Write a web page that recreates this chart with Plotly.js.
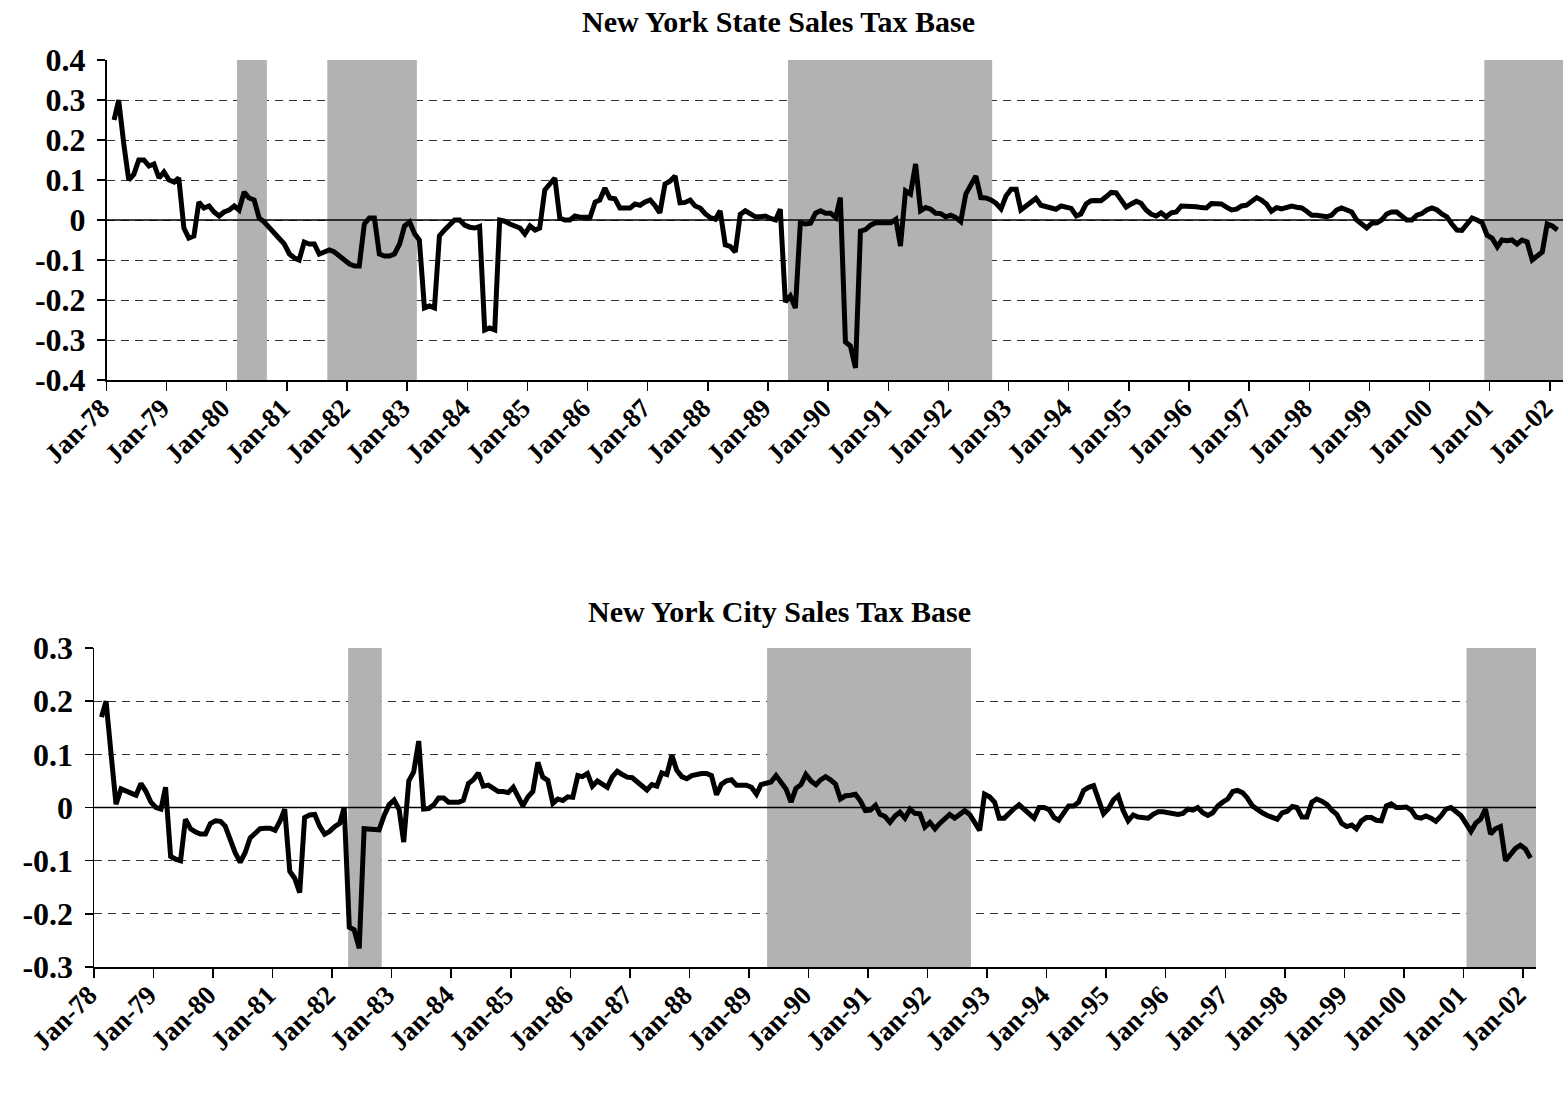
<!DOCTYPE html>
<html>
<head>
<meta charset="utf-8">
<script src="https://cdn.plot.ly/plotly-3.0.1.min.js"></script>
<style>
html,body{margin:0;padding:0;background:#fff;}
#chart{width:1567px;height:1095px;}
</style>
</head>
<body>
<div id="chart"></div>
<script>
// Monthly series, Feb-1978 through Feb-2002
const startMonth = "1978-02";
const stateGrowth = [
  0.25, 0.30, 0.19, 0.10, 0.114, 0.15, 0.15, 0.135, 0.14, 0.105, 0.12,
  0.10, 0.095, 0.105, -0.02, -0.045, -0.04, 0.045, 0.03, 0.035, 0.02, 0.01, 0.02,
  0.025, 0.035, 0.025, 0.07, 0.055, 0.05, 0.005, -0.005, -0.02, -0.03, -0.045, -0.06,
  -0.085, -0.095, -0.10, -0.055, -0.06, -0.06, -0.085, -0.08, -0.075, -0.08, -0.09, -0.10,
  -0.11, -0.115, -0.115, -0.01, 0.005, 0.005, -0.085, -0.09, -0.09, -0.085, -0.06, -0.015,
  -0.005, -0.035, -0.05, -0.22, -0.215, -0.22, -0.04, -0.025, -0.013, 0.0, 0.0, -0.013,
  -0.018, -0.02, -0.016, -0.275, -0.27, -0.275, 0.0, -0.003, -0.01, -0.015, -0.02, -0.035,
  -0.015, -0.025, -0.02, 0.075, 0.09, 0.105, 0.005, 0.0, 0.0, 0.01, 0.007, 0.008,
  0.007, 0.045, 0.05, 0.08, 0.055, 0.053, 0.03, 0.03, 0.03, 0.04, 0.037, 0.045,
  0.05, 0.035, 0.018, 0.09, 0.097, 0.11, 0.043, 0.044, 0.05, 0.035, 0.03, 0.016,
  0.006, 0.002, 0.023, -0.062, -0.066, -0.08, 0.014, 0.023, 0.017, 0.008, 0.008, 0.01,
  0.004, 0.0, 0.027, -0.205, -0.19, -0.22, -0.007, -0.01, -0.008, 0.017, 0.023, 0.017,
  0.017, 0.006, 0.056, -0.305, -0.315, -0.37, -0.028, -0.024, -0.013, -0.007, -0.007, -0.007,
  -0.007, 0.002, -0.065, 0.073, 0.065, 0.14, 0.023, 0.031, 0.027, 0.017, 0.016, 0.008,
  0.012, 0.006, -0.004, 0.065, 0.085, 0.11, 0.056, 0.055, 0.05, 0.042, 0.028, 0.06,
  0.077, 0.077, 0.025, 0.035, 0.045, 0.054, 0.037, 0.033, 0.031, 0.027, 0.035, 0.031,
  0.029, 0.01, 0.015, 0.04, 0.048, 0.049, 0.048, 0.058, 0.069, 0.068, 0.05, 0.032,
  0.04, 0.047, 0.042, 0.025, 0.015, 0.01, 0.018, 0.008, 0.018, 0.02, 0.035, 0.035,
  0.035, 0.033, 0.031, 0.03, 0.041, 0.041, 0.04, 0.032, 0.025, 0.027, 0.035, 0.037,
  0.047, 0.056, 0.05, 0.04, 0.022, 0.031, 0.028, 0.03, 0.035, 0.032, 0.03, 0.022,
  0.012, 0.012, 0.011, 0.008, 0.012, 0.025, 0.03, 0.025, 0.02, 0.0, -0.01, -0.02,
  -0.008, -0.007, 0.0, 0.015, 0.02, 0.02, 0.01, 0.0, 0.0, 0.012, 0.016, 0.025,
  0.03, 0.025, 0.015, 0.008, -0.01, -0.025, -0.026, -0.008, 0.005, 0.0, -0.007, -0.038,
  -0.046, -0.067, -0.05, -0.052, -0.05, -0.06, -0.05, -0.055, -0.1, -0.09, -0.08, -0.01,
  -0.015, -0.025
];
const cityGrowth = [
  0.17, 0.2, 0.1, 0.006, 0.035, 0.03, 0.027, 0.023, 0.045, 0.03, 0.01,
  0.0, -0.003, 0.038, -0.092, -0.097, -0.1, -0.022, -0.04, -0.046, -0.05, -0.05, -0.03,
  -0.025, -0.026, -0.035, -0.06, -0.085, -0.103, -0.085, -0.057, -0.048, -0.04, -0.039, -0.039,
  -0.043, -0.025, -0.003, -0.12, -0.133, -0.16, -0.019, -0.014, -0.013, -0.035, -0.05, -0.045,
  -0.036, -0.03, 0.0, -0.225, -0.23, -0.265, -0.04, -0.04, -0.042, -0.042, -0.015, 0.005,
  0.014, -0.004, -0.065, 0.05, 0.067, 0.125, -0.003, -0.002, 0.005, 0.018, 0.018, 0.01,
  0.01, 0.01, 0.014, 0.045, 0.052, 0.065, 0.04, 0.042, 0.036, 0.03, 0.03, 0.028,
  0.038, 0.019, 0.003, 0.02, 0.03, 0.085, 0.057, 0.051, 0.008, 0.016, 0.013, 0.02,
  0.019, 0.06, 0.058, 0.064, 0.04, 0.05, 0.045, 0.038, 0.058, 0.068, 0.062, 0.057,
  0.056, 0.048, 0.039, 0.033, 0.043, 0.04, 0.065, 0.062, 0.098, 0.07, 0.058, 0.054,
  0.06, 0.063, 0.064, 0.064, 0.06, 0.024, 0.044, 0.05, 0.052, 0.042, 0.042, 0.042,
  0.038, 0.025, 0.043, 0.046, 0.048, 0.06, 0.048, 0.035, 0.01, 0.036, 0.043, 0.062,
  0.05, 0.043, 0.052, 0.058, 0.052, 0.044, 0.016, 0.022, 0.023, 0.025, 0.012, -0.006,
  -0.005, 0.004, -0.013, -0.017, -0.028, -0.016, -0.009, -0.02, -0.003, -0.011, -0.012, -0.037,
  -0.028, -0.04, -0.03, -0.022, -0.013, -0.02, -0.012, -0.006, -0.013, -0.027, -0.043, 0.025,
  0.02, 0.01, -0.02, -0.02, -0.01, -0.002, 0.005, -0.003, -0.012, -0.02, 0.0, 0.0,
  -0.004, -0.019, -0.024, -0.01, 0.003, 0.003, 0.01, 0.032, 0.038, 0.041, 0.01, -0.012,
  -0.002, 0.015, 0.022, -0.006, -0.025, -0.014, -0.018, -0.02, -0.02, -0.013, -0.008, -0.008,
  -0.01, -0.013, -0.013, -0.011, -0.003, -0.005, 0.0, -0.01, -0.015, -0.01, 0.003, 0.01,
  0.016, 0.03, 0.032, 0.028, 0.018, 0.003, -0.004, -0.01, -0.015, -0.018, -0.022, -0.01,
  -0.007, 0.002, 0.0, -0.018, -0.018, 0.01, 0.016, 0.012, 0.006, -0.005, -0.013, -0.03,
  -0.036, -0.033, -0.04, -0.025, -0.019, -0.019, -0.024, -0.025, 0.003, 0.007, 0.0, 0.0,
  0.001, -0.005, -0.018, -0.02, -0.016, -0.02, -0.026, -0.016, -0.003, 0.0, -0.008, -0.015,
  -0.03, -0.045, -0.03, -0.022, -0.003, -0.05, -0.04, -0.036, -0.1, -0.09, -0.077, -0.071,
  -0.078, -0.095
];
// Recession shading periods
const stateRecStart = ["1980-03-04", "1981-09-03", "1989-05-02", "2000-11-29"];
const stateRecEnd   = ["1980-09-01", "1983-03-01", "1992-09-23", "2002-03-22"];
const cityRecStart  = ["1982-04-09", "1989-04-22", "2001-01-20"];
const cityRecEnd    = ["1982-11-01", "1992-09-24", "2002-03-22"];
// Tick labels
const stateYTicks = [0.4, 0.3, 0.2, 0.1, 0, -0.1, -0.2, -0.3, -0.4];
const stateYText  = ["0.4", "0.3", "0.2", "0.1", "0", "-0.1", "-0.2", "-0.3", "-0.4"];
const cityYTicks  = [0.3, 0.2, 0.1, 0, -0.1, -0.2, -0.3];
const cityYText   = ["0.3", "0.2", "0.1", "0", "-0.1", "-0.2", "-0.3"];
const titles = ["New York State Sales Tax Base", "New York City Sales Tax Base"];
const xRange = ["1978-01-01", "2002-03-22"];

function monthDates(start, n) {
  const [y0, m0] = start.split("-").map(Number);
  const out = [];
  for (let i = 0; i < n; i++) {
    const t = (m0 - 1) + i;
    const y = y0 + Math.floor(t / 12);
    const m = (t % 12) + 1;
    out.push(y + "-" + String(m).padStart(2, "0") + "-16");
  }
  return out;
}

const FONT = "Liberation Serif, Times New Roman, serif";
const xs1 = monthDates(startMonth, stateGrowth.length);
const xs2 = monthDates(startMonth, cityGrowth.length);

const traces = [
  {x: xs1, y: stateGrowth, xaxis: "x", yaxis: "y", type: "scatter", mode: "lines",
   line: {color: "#000", width: 5}, hoverinfo: "skip", showlegend: false},
  {x: xs2, y: cityGrowth, xaxis: "x2", yaxis: "y2", type: "scatter", mode: "lines",
   line: {color: "#000", width: 5}, hoverinfo: "skip", showlegend: false}
];

const shapes = [];
stateRecStart.forEach((s, i) => {
  shapes.push({type: "rect", xref: "x", yref: "y", x0: s, x1: stateRecEnd[i],
    y0: -0.4, y1: (i === stateRecStart.length - 1 ? 0.412 : 0.4),
    fillcolor: "#b2b2b2", line: {width: 0}, layer: "between"});
});
cityRecStart.forEach((s, i) => {
  shapes.push({type: "rect", xref: "x2", yref: "y2", x0: s, x1: cityRecEnd[i],
    y0: -0.3, y1: 0.3, fillcolor: "#b2b2b2", line: {width: 0}, layer: "between"});
});
shapes.push({type: "line", xref: "x", yref: "y", x0: xRange[0], x1: xRange[1], y0: 0, y1: 0,
  line: {color: "#000", width: 1.6}, layer: "between"});
shapes.push({type: "line", xref: "x2", yref: "y2", x0: xRange[0], x1: xRange[1], y0: 0, y1: 0,
  line: {color: "#000", width: 1.6}, layer: "between"});

const xBase = {
  type: "date", range: xRange, tickmode: "linear", tick0: "1978-01-01", dtick: "M12",
  tickformat: "%b-%y", tickangle: -45, ticks: "outside", ticklen: 9, tickwidth: 1.5,
  tickcolor: "#000", showline: true, linecolor: "#000", linewidth: 1.5,
  showgrid: false, zeroline: false, ticklabelstandoff: -9, ticklabelshift: -5,
  tickfont: {family: FONT, size: 27, color: "#000", weight: "bold"}
};
const yBase = {
  tickmode: "array", ticks: "outside", ticklen: 8, tickwidth: 1.5, tickcolor: "#000",
  showline: true, linecolor: "#000", linewidth: 1.5, ticklabelstandoff: 5,
  showgrid: true, gridcolor: "#333", gridwidth: 1, griddash: "8px,6px", zeroline: false,
  tickfont: {family: FONT, size: 32, color: "#000", weight: "bold"}
};

const layout = {
  width: 1567, height: 1095,
  margin: {l: 0, r: 0, t: 0, b: 0},
  paper_bgcolor: "#fff", plot_bgcolor: "#fff",
  showlegend: false,
  xaxis: Object.assign({}, xBase, {domain: [106.5/1567, 1563/1567], anchor: "y"}),
  yaxis: Object.assign({}, yBase, {domain: [1 - 380/1095, 1 - 60/1095], anchor: "x",
    range: [-0.4, 0.4], tickvals: stateYTicks, ticktext: stateYText}),
  xaxis2: Object.assign({}, xBase, {domain: [94/1567, 1536/1567], anchor: "y2"}),
  yaxis2: Object.assign({}, yBase, {domain: [1 - 967/1095, 1 - 648/1095], anchor: "x2",
    range: [-0.3, 0.3], tickvals: cityYTicks, ticktext: cityYText}),
  shapes: shapes,
  annotations: [
    {text: titles[0], xref: "paper", yref: "paper", x: 778/1567, y: 1 - 22/1095,
     xanchor: "center", yanchor: "middle", showarrow: false,
     font: {family: FONT, size: 30, color: "#000", weight: "bold"}},
    {text: titles[1], xref: "paper", yref: "paper", x: 779/1567, y: 1 - 611/1095,
     xanchor: "center", yanchor: "middle", showarrow: false,
     font: {family: FONT, size: 30, color: "#000", weight: "bold"}}
  ]
};

Plotly.newPlot("chart", traces, layout, {staticPlot: true, displayModeBar: false});
</script>
</body>
</html>
